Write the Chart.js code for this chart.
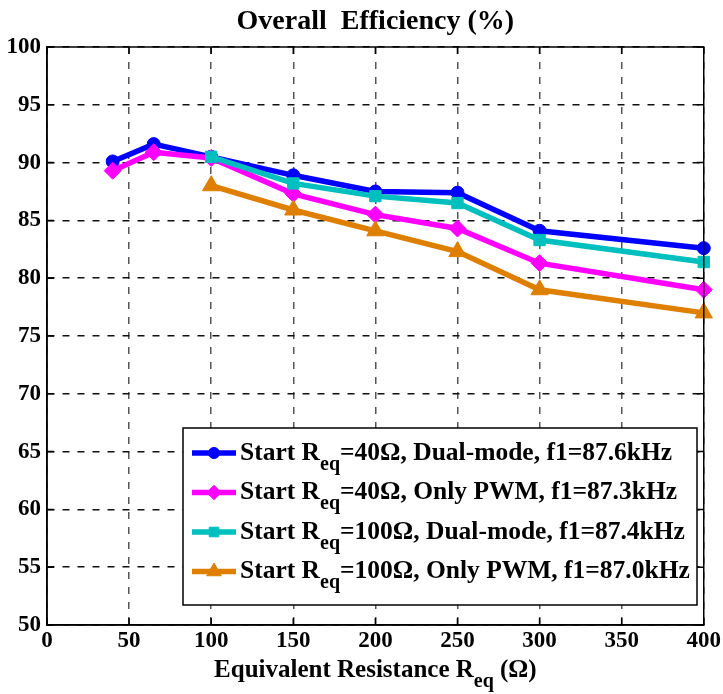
<!DOCTYPE html>
<html>
<head>
<meta charset="utf-8">
<script src="https://cdn.jsdelivr.net/npm/chart.js@4.4.1/dist/chart.umd.min.js"></script>
<style>
  html, body { margin: 0; background: #fff; }
  #c { display: block; }
</style>
</head>
<body>
<canvas id="c" width="723" height="694"></canvas>
<script>
// data
const x40 = [40, 65, 100, 150, 200, 250, 300, 400];
const x100 = [100, 150, 200, 250, 300, 400];
const dual40 = [90.1, 91.6, 90.5, 88.9, 87.5, 87.4, 84.1, 82.6];
const pwm40 = [89.3, 90.9, 90.4, 87.3, 85.5, 84.3, 81.3, 79.0];
const dual100 = [90.5, 88.2, 87.1, 86.5, 83.3, 81.4];
const pwm100 = [88.0, 85.9, 84.1, 82.3, 79.0, 77.0];
const seriesLabels = [
  "Start R_{eq}=40\u03A9, Dual-mode, f1=87.6kHz",
  "Start R_{eq}=40\u03A9, Only PWM, f1=87.3kHz",
  "Start R_{eq}=100\u03A9, Dual-mode, f1=87.4kHz",
  "Start R_{eq}=100\u03A9, Only PWM, f1=87.0kHz"
];
const xTicks = [0, 50, 100, 150, 200, 250, 300, 350, 400];
const yTicks = [50, 55, 60, 65, 70, 75, 80, 85, 90, 95, 100];
const chartTitle = "Overall  Efficiency (%)";
const xTitle = "Equivalent Resistance R_{eq} (\u03A9)";

const FONT = "'Liberation Serif', 'Times New Roman', serif";

function pts(xs, ys) {
  return xs.map((x, i) => ({ x: x, y: ys[i] }));
}

// draws text with _{sub} parts
function richText(ctx, text, x, y, size, align) {
  const parts = text.split(/_\{([^}]*)\}/);
  const subSize = Math.round(size * 0.8);
  let total = 0;
  parts.forEach((p, i) => {
    ctx.font = "bold " + (i % 2 ? subSize : size) + "px " + FONT;
    total += ctx.measureText(p).width;
  });
  let cx = align === "center" ? x - total / 2 : x;
  ctx.textAlign = "left";
  ctx.textBaseline = "middle";
  parts.forEach((p, i) => {
    const sub = i % 2 === 1;
    ctx.font = "bold " + (sub ? subSize : size) + "px " + FONT;
    ctx.fillText(p, cx, sub ? y + size * 0.45 : y);
    cx += ctx.measureText(p).width;
  });
}

const colors = ["#0000ff", "#ff00ff", "#00bfbf", "#df7f00"];
const markers = ["circle", "rectRot", "rect", "triangle"];
const radii = [6.5, 8.5, 8, 10];

const decor = {
  id: "decor",
  afterDraw(chart) {
    const ctx = chart.ctx;
    const a = chart.chartArea;
    const xs = chart.scales.x, ys = chart.scales.y;
    ctx.save();
    ctx.fillStyle = "#000";
    ctx.strokeStyle = "#000";
    ctx.lineWidth = 1.5;
    ctx.strokeRect(a.left, a.top, a.right - a.left, a.bottom - a.top);
    // inward ticks on all sides
    ctx.beginPath();
    xTicks.forEach(v => {
      const px = xs.getPixelForValue(v);
      ctx.moveTo(px, a.bottom); ctx.lineTo(px, a.bottom - 7);
      ctx.moveTo(px, a.top); ctx.lineTo(px, a.top + 7);
    });
    yTicks.forEach(v => {
      const py = ys.getPixelForValue(v);
      ctx.moveTo(a.left, py); ctx.lineTo(a.left + 7, py);
      ctx.moveTo(a.right, py); ctx.lineTo(a.right - 7, py);
    });
    ctx.stroke();

    richText(ctx, chartTitle, (a.left + a.right) / 2, 22, 28, "center");
    richText(ctx, xTitle, (a.left + a.right) / 2, 671, 25, "center");

    // legend
    const bx = 183, by = 428, bw = 514, bh = 177;
    ctx.fillStyle = "#fff";
    ctx.fillRect(bx, by, bw, bh);
    ctx.lineWidth = 1.5;
    ctx.strokeStyle = "#000";
    ctx.strokeRect(bx, by, bw, bh);
    chart.data.datasets.forEach((ds, i) => {
      const y = by + 25 + i * 39.5;
      ctx.strokeStyle = ds.borderColor;
      ctx.lineWidth = 5.5;
      ctx.beginPath();
      ctx.moveTo(192, y);
      ctx.lineTo(236, y);
      ctx.stroke();
      ctx.fillStyle = ds.backgroundColor;
      ctx.strokeStyle = ds.borderColor;
      ctx.lineWidth = 1;
      Chart.helpers.drawPoint(ctx, { pointStyle: ds.pointStyle, radius: ds.pointRadius * 0.85, borderWidth: 1 }, 214, y);
      ctx.fillStyle = "#000";
      richText(ctx, seriesLabels[i], 240, y, 25.5, "left");
    });
    ctx.restore();
  }
};

const datasets = [pts(x40, dual40), pts(x40, pwm40), pts(x100, dual100), pts(x100, pwm100)].map((d, i) => ({
  label: seriesLabels[i],
  data: d,
  borderColor: colors[i],
  backgroundColor: colors[i],
  borderWidth: 5.5,
  pointStyle: markers[i],
  pointRadius: radii[i],
  pointBorderWidth: 1,
  tension: 0,
  clip: false,
  order: 4 - i
}));

new Chart(document.getElementById("c"), {
  type: "line",
  data: { datasets: datasets },
  options: {
    responsive: false,
    animation: false,
    layout: { padding: { top: 47, right: 17, left: 0, bottom: 0 } },
    plugins: { legend: { display: false }, tooltip: { enabled: false } },
    scales: {
      x: {
        type: "linear",
        min: 0, max: 400,
        afterBuildTicks: s => { s.ticks = xTicks.map(v => ({ value: v })); },
        afterFit: s => { s.height = 69; },
        ticks: { color: "#000", padding: 2, font: { family: FONT, size: 23, weight: "bold" } },
        grid: { color: "#555", lineWidth: 1.5, drawTicks: false },
        border: { display: true, color: "#000", width: 1.5, dash: [7, 8] }
      },
      y: {
        min: 50, max: 100,
        afterBuildTicks: s => { s.ticks = yTicks.map(v => ({ value: v })); },
        afterFit: s => { s.width = 47; },
        ticks: { color: "#000", padding: 6, font: { family: FONT, size: 23, weight: "bold" } },
        grid: { color: "#111", lineWidth: 1.5, drawTicks: false },
        border: { display: true, color: "#000", width: 1.5, dash: [7, 8] }
      }
    }
  },
  plugins: [decor]
});
</script>
</body>
</html>
